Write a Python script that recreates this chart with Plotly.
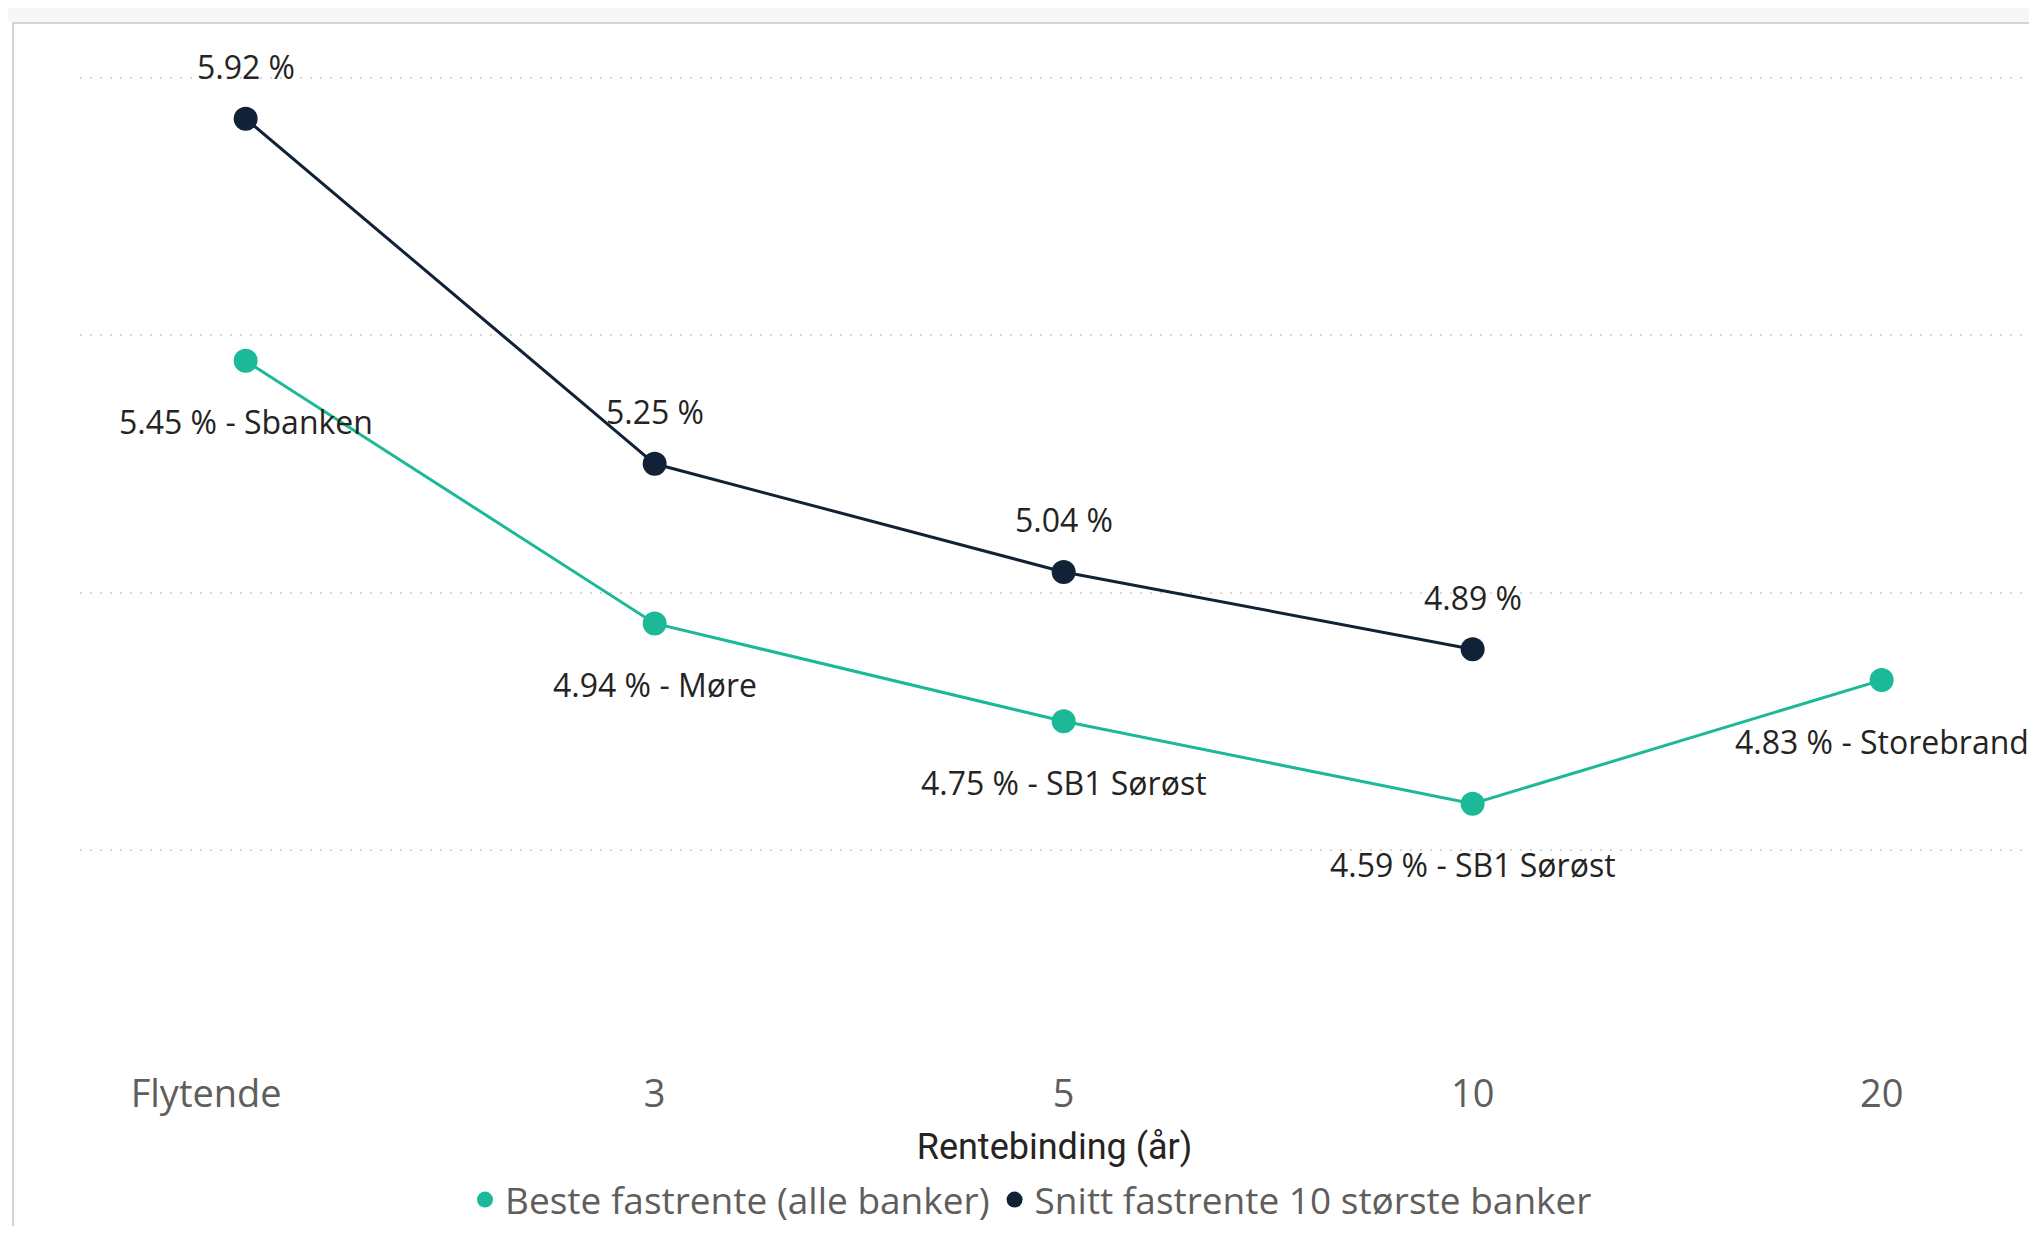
import plotly.graph_objects as go

# ---- data ----
categories = ["Flytende", "3", "5", "10", "20"]
best_rate = [5.45, 4.94, 4.75, 4.59, 4.83]
best_bank = ["Sbanken", "Møre", "SB1 Sørøst", "SB1 Sørøst", "Storebrand"]
avg_rate = [5.92, 5.25, 5.04, 4.89, None]
series_names = ["Beste fastrente (alle banker)", "Snitt fastrente 10 største banker"]
x_title = "Rentebinding (år)"

# ---- style ----
OFF = 8  # default page body margin
WIN_W, WIN_H = 2037, 1234
W, H = WIN_W - 2 * OFF, WIN_H - 2 * OFF
ML, MR, MT, MB = 80 - OFF, 0, 75 - OFF, H - (1056 - OFF)
GREEN = "#1BB997"
DARK = "#112236"
LABEL_COLOR = "#252423"
TICK_COLOR = "#605E5C"
FONT = "Open Sans, Segoe UI, sans-serif"

pw = W - ML - MR
ph = H - MT - MB
PX_PER_CAT = 409


def px_x(wx):
    return (wx - OFF - ML) / pw


def px_y(wy):
    return (H - MB - (wy - OFF)) / ph


x_idx = list(range(len(categories)))
x0 = -0.405

fig = go.Figure()

fig.add_trace(go.Scatter(
    x=x_idx, y=best_rate, mode="lines+markers", name=series_names[0],
    line=dict(color=GREEN, width=3), marker=dict(color=GREEN, size=24),
    showlegend=False, cliponaxis=False,
))
fig.add_trace(go.Scatter(
    x=x_idx, y=avg_rate, mode="lines+markers", name=series_names[1],
    line=dict(color=DARK, width=3), marker=dict(color=DARK, size=24),
    showlegend=False, cliponaxis=False, connectgaps=False,
))
# legend-only entries (dot symbols)
for name, col in zip(series_names, [GREEN, DARK]):
    fig.add_trace(go.Scatter(
        x=[None], y=[None], mode="markers", name=name,
        marker=dict(color=col, size=20), showlegend=True,
    ))

# data labels
for i, (v, b) in enumerate(zip(best_rate, best_bank)):
    fig.add_annotation(
        x=x_idx[i], y=v, text=f"{v:.2f} % - {b}", showarrow=False,
        yshift=-61, font=dict(size=32, color=LABEL_COLOR, family=FONT),
    )
for i, v in enumerate(avg_rate):
    if v is None:
        continue
    fig.add_annotation(
        x=x_idx[i], y=v, text=f"{v:.2f} %", showarrow=False,
        yshift=52, font=dict(size=32, color=LABEL_COLOR, family=FONT),
    )

# frame: top band and borders
fig.add_shape(type="rect", xref="paper", yref="paper",
              x0=px_x(OFF), x1=px_x(WIN_W), y0=px_y(22), y1=px_y(OFF),
              fillcolor="#F7F7F7", line=dict(width=0), layer="below")
fig.add_shape(type="line", xref="paper", yref="paper",
              x0=px_x(12), x1=px_x(WIN_W), y0=px_y(23), y1=px_y(23),
              line=dict(color="#D4D4D4", width=2))
fig.add_shape(type="line", xref="paper", yref="paper",
              x0=px_x(13), x1=px_x(13), y0=px_y(23), y1=px_y(WIN_H),
              line=dict(color="#D4D4D4", width=2))

tick_text = ["Flytende" + "\u00a0" * 8] + categories[1:]

fig.update_layout(
    width=W, height=H,
    margin=dict(l=ML, r=MR, t=MT, b=MB, autoexpand=False),
    paper_bgcolor="white", plot_bgcolor="white",
    font=dict(family=FONT),
    showlegend=True,
    legend=dict(
        orientation="h", x=px_x(1031), xanchor="center",
        y=px_y(1200), yanchor="middle",
        font=dict(size=37, color=TICK_COLOR, family=FONT),
        itemsizing="trace", itemwidth=30, tracegroupgap=0,
        bgcolor="rgba(0,0,0,0)",
    ),
    xaxis=dict(
        range=[x0, x0 + pw / PX_PER_CAT], tickmode="array", tickvals=x_idx, ticktext=tick_text,
        showgrid=False, zeroline=False, showline=False, ticks="",
        tickfont=dict(size=38, color=TICK_COLOR, family=FONT),
        ticklabelstandoff=12,
        title=dict(text=x_title, standoff=16,
                   font=dict(size=36, color=LABEL_COLOR, family="Roboto, " + FONT)),
    ),
    yaxis=dict(
        range=[4.1, 6.005], tickvals=[4.5, 5.0, 5.5, 6.0],
        showticklabels=False, showgrid=True, gridcolor="#D6D6D6", gridwidth=2,
        griddash="2px,8px", zeroline=False, showline=False, ticks="",
    ),
)

fig.write_html("out.html")
